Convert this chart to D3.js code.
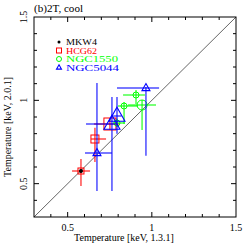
<!DOCTYPE html>
<html lang="en">
<head>
<meta charset="utf-8">
<title>2T cool</title>
<script src="https://d3js.org/d3.v7.min.js"></script>
<style>
  body { margin:0; background:#fff; }
  text { font-family: "Liberation Serif", "DejaVu Serif", serif; }
</style>
</head>
<body>
<svg width="249" height="243"></svg>
<script>
// series: x, y, x error low/high, y error low/high, marker size
var mkw4 = [[0.579, 0.576, 0.570, 0.588, 0.566, 0.586, 2]];
var hcg62 = [
  [0.579, 0.576, 0.526, 0.633, 0.486, 0.648, 3],
  [0.662, 0.768, 0.639, 0.728, 0.630, 0.836, 4],
  [0.751, 0.858, 0.656, 0.811, 0.822, 0.894, 6]
];
var ngc1550 = [
  [0.906, 1.032, 0.829, 0.959, 0.978, 1.062, 3],
  [0.835, 0.966, 0.799, 0.918, 0.858, 0.990, 3],
  [0.942, 0.972, 0.858, 1.025, 0.822, 1.002, 5],
  [0.793, 0.864, 0.769, 0.840, 0.840, 0.890, 3]
];
var ngc5044 = [
  [0.674, 0.684, 0.603, 0.763, 0.456, 1.104, 4],
  [0.763, 0.858, 0.609, 0.790, 0.456, 1.020, 8],
  [0.793, 0.906, 0.770, 0.820, 0.800, 1.020, 8],
  [0.965, 1.074, 0.793, 1.043, 0.668, 1.080, 4]
];
var names = ["MKW4", "HCG62", "NGC1550", "NGC5044"];
var majorTicks = [0.5, 1, 1.5];
var tickLabels = ["0.5", "1", "1.5"];

var svg = d3.select("svg");
var L = 34, R = 236, T = 17, B = 217;
var x = d3.scaleLinear().domain([0.3, 1.5]).range([L, R]);
var y = d3.scaleLinear().domain([0.3, 1.5]).range([B, T]);
var minor = d3.range(4, 15).map(function(d){ return d / 10; });

// diagonal
svg.append("line")
  .attr("x1", x(0.3)).attr("y1", y(0.3)).attr("x2", x(1.5)).attr("y2", y(1.5))
  .attr("stroke", "#666").attr("stroke-width", 1);

var colors = ["#000", "#ff0000", "#00ff00", "#0000ff"];
var series = [mkw4, hcg62, ngc1550, ngc5044];
var shapes = ["dot", "square", "circle", "triangle"];

function marker(g, shape, cx, cy, s, col) {
  if (shape == "dot") {
    g.append("circle").attr("cx", cx).attr("cy", cy).attr("r", s).attr("fill", col);
  } else if (shape == "square") {
    g.append("rect").attr("x", cx - s).attr("y", cy - s).attr("width", 2*s).attr("height", 2*s)
      .attr("fill", "none").attr("stroke", col).attr("stroke-width", 1);
  } else if (shape == "circle") {
    g.append("circle").attr("cx", cx).attr("cy", cy).attr("r", s)
      .attr("fill", "none").attr("stroke", col).attr("stroke-width", 1);
  } else {
    var h = s * 1.1;
    g.append("path").attr("d", "M" + cx + "," + (cy - h) + "L" + (cx + s) + "," + (cy + h*0.6) + "L" + (cx - s) + "," + (cy + h*0.6) + "Z")
      .attr("fill", "none").attr("stroke", col).attr("stroke-width", 1.1);
  }
}

[1, 2, 3, 0].forEach(function(k) {
  var g = svg.append("g");
  series[k].forEach(function(d) {
    g.append("line").attr("x1", x(d[2])).attr("x2", x(d[3])).attr("y1", y(d[1])).attr("y2", y(d[1]))
      .attr("stroke", colors[k]).attr("stroke-width", 1.5).attr("opacity", 0.7);
    g.append("line").attr("x1", x(d[0])).attr("x2", x(d[0])).attr("y1", y(d[4])).attr("y2", y(d[5]))
      .attr("stroke", colors[k]).attr("stroke-width", 1.5).attr("opacity", 0.7);
    marker(g, shapes[k], x(d[0]), y(d[1]), d[6], colors[k]);
  });
});

// frame
svg.append("rect").attr("x", L).attr("y", T).attr("width", R - L).attr("height", B - T)
  .attr("fill", "none").attr("stroke", "#000").attr("stroke-width", 1);

// ticks on all four sides
minor.forEach(function(v) {
  var len = majorTicks.indexOf(v) >= 0 ? 5 : 3;
  svg.append("line").attr("x1", x(v)).attr("x2", x(v)).attr("y1", B).attr("y2", B - len).attr("stroke", "#000");
  svg.append("line").attr("x1", x(v)).attr("x2", x(v)).attr("y1", T).attr("y2", T + len).attr("stroke", "#000");
  svg.append("line").attr("y1", y(v)).attr("y2", y(v)).attr("x1", L).attr("x2", L + len).attr("stroke", "#000");
  svg.append("line").attr("y1", y(v)).attr("y2", y(v)).attr("x1", R).attr("x2", R - len).attr("stroke", "#000");
});

majorTicks.forEach(function(v, i) {
  svg.append("text").attr("x", x(v)).attr("y", 231).attr("text-anchor", "middle")
    .attr("font-size", 10).text(tickLabels[i]);
  svg.append("text").attr("transform", "translate(27," + y(v) + ") rotate(-90)")
    .attr("text-anchor", "middle").attr("font-size", 10).text(tickLabels[i]);
});

svg.append("text").attr("x", 124).attr("y", 241).attr("text-anchor", "middle")
  .attr("font-size", 10).text("Temperature [keV, 1.3.1]");
svg.append("text").attr("transform", "translate(11,127) rotate(-90)").attr("text-anchor", "middle")
  .attr("font-size", 10).text("Temperature [keV, 2.0.1]");
svg.append("text").attr("x", 34).attr("y", 12).attr("font-size", 10)
  .attr("textLength", 49).attr("lengthAdjust", "spacingAndGlyphs").text("(b)2T, cool");

// legend
var ly = [42, 50.5, 59, 67.5];
var lw = [31, 31, 52, 53];
names.forEach(function(n, i) {
  var g = svg.append("g");
  marker(g, shapes[i], 59, ly[i], i == 0 ? 1.5 : 2.5, colors[i]);
  g.append("text").attr("x", 66).attr("y", ly[i] + 3).attr("font-size", 8.5)
    .attr("textLength", lw[i]).attr("lengthAdjust", "spacingAndGlyphs")
    .attr("fill", colors[i]).text(n);
});
</script>
</body>
</html>
